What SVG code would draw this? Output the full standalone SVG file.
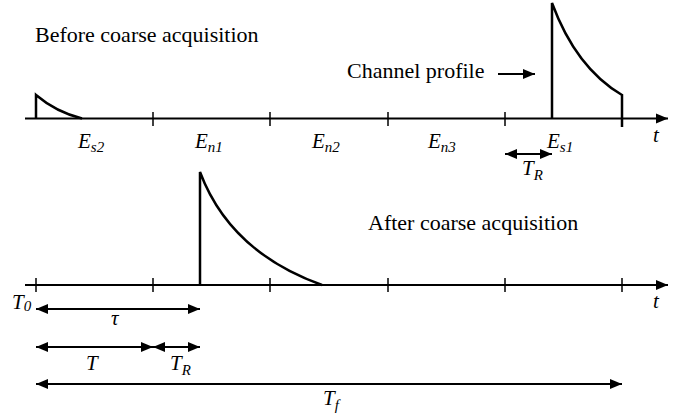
<svg xmlns="http://www.w3.org/2000/svg" width="682" height="419" viewBox="0 0 682 419">
<defs>
<marker id="ah" markerUnits="userSpaceOnUse" markerWidth="13" markerHeight="11" refX="12" refY="5" orient="auto-start-reverse" viewBox="0 0 13 10">
<path d="M0,0 L12,5 L0,10 z" fill="#000"/>
</marker>
</defs>
<style>
.ax{stroke:#000;stroke-width:2;fill:none}
.tk{stroke:#000;stroke-width:1.5}
.pl{stroke:#000;stroke-width:2.5;fill:none}
.dim{stroke:#000;stroke-width:2;fill:none}
</style>
<rect width="682" height="419" fill="#fff"/>
<g id="top-axis">
<line class="ax" x1="25" y1="118.5" x2="668" y2="118.5" marker-end="url(#ah)"/>
<line class="tk" x1="153" y1="112" x2="153" y2="126"/>
<line class="tk" x1="270" y1="112" x2="270" y2="126"/>
<line class="tk" x1="388" y1="112" x2="388" y2="126"/>
<line class="tk" x1="505" y1="112" x2="505" y2="126"/>
</g>
<g id="top-pulses">
<path class="pl" d="M36,118.5 L36,95 Q56,112 82,118.5"/>
<path class="pl" d="M552,118.5 L552,3 Q576,68 622,95 L622,127"/>
</g>
<g id="bottom-axis">
<line class="ax" x1="25" y1="285" x2="668" y2="285" marker-end="url(#ah)"/>
<line class="tk" x1="36" y1="278" x2="36" y2="292"/>
<line class="tk" x1="153" y1="278" x2="153" y2="292"/>
<line class="tk" x1="270" y1="278" x2="270" y2="292"/>
<line class="tk" x1="388" y1="278" x2="388" y2="292"/>
<line class="tk" x1="505" y1="278" x2="505" y2="292"/>
<line class="tk" x1="622" y1="278" x2="622" y2="292"/>
</g>
<g id="bottom-pulse">
<path class="pl" d="M200,285 L200,172 Q230,252 322,285"/>
</g>
<g id="connectors">
<line class="dim" x1="498" y1="74" x2="535" y2="74" marker-end="url(#ah)"/>
<line class="dim" x1="505" y1="154" x2="552" y2="154" marker-start="url(#ah)" marker-end="url(#ah)"/>
<line class="dim" x1="36" y1="309" x2="200" y2="309" marker-start="url(#ah)" marker-end="url(#ah)"/>
<line class="dim" x1="36" y1="347" x2="153" y2="347" marker-start="url(#ah)" marker-end="url(#ah)"/>
<line class="dim" x1="153" y1="347" x2="200" y2="347" marker-start="url(#ah)" marker-end="url(#ah)"/>
<line class="dim" x1="36" y1="384" x2="622" y2="384" marker-start="url(#ah)" marker-end="url(#ah)"/>
</g>
<text x="35" y="42" font-family="Liberation Serif" font-size="22">Before coarse acquisition</text>
<text x="347" y="78" font-family="Liberation Serif" font-size="22">Channel profile</text>
<text x="78" y="148" font-family="Liberation Serif" font-size="21" font-style="italic">E<tspan font-size="15" dy="4">s2</tspan></text>
<text x="195" y="148" font-family="Liberation Serif" font-size="21" font-style="italic">E<tspan font-size="15" dy="4">n1</tspan></text>
<text x="312" y="148" font-family="Liberation Serif" font-size="21" font-style="italic">E<tspan font-size="15" dy="4">n2</tspan></text>
<text x="428" y="148" font-family="Liberation Serif" font-size="21" font-style="italic">E<tspan font-size="15" dy="4">n3</tspan></text>
<text x="547" y="148" font-family="Liberation Serif" font-size="21" font-style="italic">E<tspan font-size="15" dy="4">s1</tspan></text>
<text x="653" y="142" font-family="Liberation Serif" font-size="21" font-style="italic">t</text>
<text x="522" y="175" font-family="Liberation Serif" font-size="21" font-style="italic">T<tspan font-size="15" dy="5">R</tspan></text>
<text x="368" y="230" font-family="Liberation Serif" font-size="22">After coarse acquisition</text>
<text x="653" y="308" font-family="Liberation Serif" font-size="21" font-style="italic">t</text>
<text x="12" y="309" font-family="Liberation Serif" font-size="21" font-style="italic">T<tspan font-size="15" dy="2">0</tspan></text>
<text x="111" y="325" font-family="Liberation Serif" font-size="21" font-style="italic">τ</text>
<text x="86" y="370" font-family="Liberation Serif" font-size="21" font-style="italic">T</text>
<text x="170" y="370" font-family="Liberation Serif" font-size="21" font-style="italic">T<tspan font-size="15" dy="5">R</tspan></text>
<text x="323" y="405" font-family="Liberation Serif" font-size="21" font-style="italic">T<tspan font-size="15" dy="5">f</tspan></text>
</svg>
